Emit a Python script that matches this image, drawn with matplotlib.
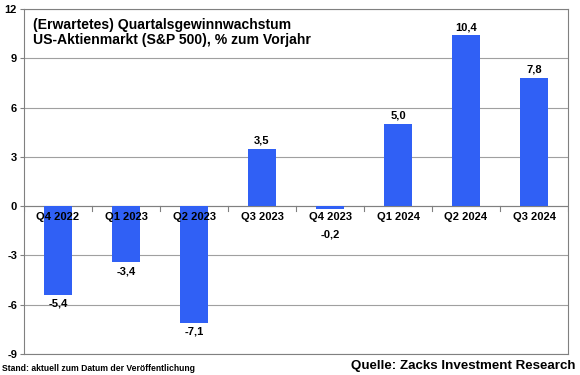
import matplotlib.pyplot as plt
import numpy as np

plt.rcParams['font.family'] = ['Liberation Sans', 'DejaVu Sans']

quarters = ['Q4 2022', 'Q1 2023', 'Q2 2023', 'Q3 2023',
            'Q4 2023', 'Q1 2024', 'Q2 2024', 'Q3 2024']
growth = [-5.4, -3.4, -7.1, 3.5, -0.2, 5.0, 10.4, 7.8]
yticks = [-9, -6, -3, 0, 3, 6, 9, 12]

fig = plt.figure(figsize=(5.8, 3.75), dpi=100)
ax = fig.add_axes([0.0414, 0.056, 0.938, 0.920])

x = np.arange(len(quarters))
ax.bar(x, growth, width=0.42, color='#3060F5', zorder=3)

ax.set_xlim(-0.5, len(quarters) - 0.5)
ax.set_ylim(-9, 12)
ax.set_yticks(yticks)
ax.set_yticklabels([str(t) for t in yticks], fontsize=8, fontweight='bold')
ax.yaxis.grid(True, color='#A0A0A0', linewidth=0.8, zorder=0)
ax.tick_params(axis='y', length=3, pad=2, color='#808080')
ax.set_xticks([])
for s in ax.spines.values():
    s.set_color('#808080')
    s.set_linewidth(0.8)

# zero line with small category ticks
ax.axhline(0, color='#808080', linewidth=0.8, zorder=2)
for b in np.arange(-0.5, len(quarters), 1.0):
    ax.plot([b, b], [0, -0.3], color='#808080', linewidth=0.8, zorder=2)

for i, (q, v) in enumerate(zip(quarters, growth)):
    ax.text(i, -0.35, q, ha='center', va='top', fontsize=8,
            fontweight='bold', zorder=4)
    lab = f'{v:.1f}'.replace('.', ',')
    if v >= 0:
        ax.text(i, v + 0.2, lab, ha='center', va='bottom', fontsize=8,
                fontweight='bold', zorder=4)
    elif v > -1:
        ax.text(i, -1.45, lab, ha='center', va='top', fontsize=8,
                fontweight='bold', zorder=4)
    else:
        ax.text(i, v - 0.25, lab, ha='center', va='top', fontsize=8,
                fontweight='bold', zorder=4)

fig.text(0.057, 0.952, '(Erwartetes) Quartalsgewinnwachstum\nUS-Aktienmarkt (S&P 500), % zum Vorjahr',
         ha='left', va='top', fontsize=10.1, fontweight='bold', linespacing=1.1)

fig.text(0.003, 0.005, 'Stand: aktuell zum Datum der Veröffentlichung',
         ha='left', va='bottom', fontsize=6.2, fontweight='bold')
fig.text(0.993, 0.008, 'Quelle: Zacks Investment Research',
         ha='right', va='bottom', fontsize=9.6, fontweight='bold')

fig.savefig('out.png', dpi=100)
